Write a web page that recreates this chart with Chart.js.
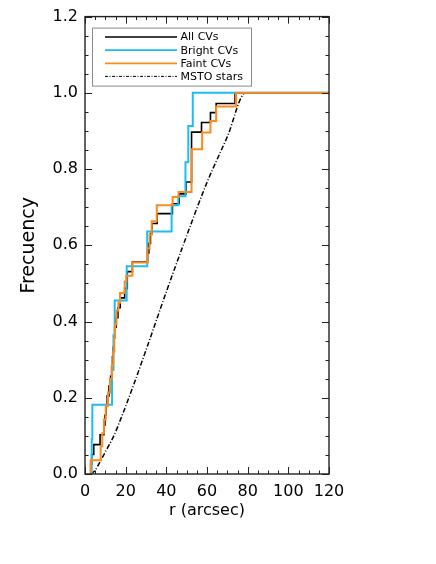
<!DOCTYPE html>
<html><head><meta charset="utf-8">
<script src="https://cdn.jsdelivr.net/npm/chart.js@4"></script>
<style>html,body{margin:0;padding:0;background:#fff;}canvas{display:block;}</style>
</head><body>
<canvas id="c" width="436" height="564"></canvas>
<script>
// ---- data ----
const xTickValues = [0, 20, 40, 60, 80, 100, 120];
const yTickValues = [0.0, 0.2, 0.4, 0.6, 0.8, 1.0, 1.2];
const seriesLabels = ['All CVs', 'Bright CVs', 'Faint CVs', 'MSTO stars'];

// All CVs (cumulative fraction, step)
const allR = [2.5, 2.8, 3.3, 4.3, 7.4, 9.3, 9.8, 10.3, 10.9, 11.8, 12.6, 13.1, 13.5, 13.9, 14.3, 14.6, 15.3, 16.2, 17.3, 19.5, 20.8, 23.3, 30.8, 31.4, 32.2, 32.9, 35.5, 43.0, 46.3, 49.7, 52.4, 57.3, 61.7, 64.5, 73.8, 120];
const allF = [0.0, 0.026, 0.051, 0.077, 0.103, 0.128, 0.154, 0.179, 0.205, 0.231, 0.256, 0.282, 0.308, 0.333, 0.359, 0.385, 0.410, 0.436, 0.462, 0.487, 0.531, 0.556, 0.580, 0.605, 0.631, 0.657, 0.683, 0.709, 0.735, 0.766, 0.897, 0.922, 0.948, 0.972, 1.0, 1.0];

// Bright CVs
const brightR = [2.5, 3.3, 3.6, 13.3, 14.0, 14.6, 20.5, 30.6, 42.6, 45.9, 49.4, 50.8, 53.0, 120];
const brightF = [0.0, 0.091, 0.182, 0.273, 0.364, 0.455, 0.545, 0.636, 0.705, 0.729, 0.818, 0.913, 1.0, 1.0];

// Faint CVs
const faintR = [2.5, 2.8, 7.7, 8.5, 9.3, 10.2, 11.3, 12.3, 13.3, 13.9, 14.4, 14.8, 15.5, 16.4, 17.2, 19.5, 20.3, 23.3, 30.7, 31.8, 32.8, 35.3, 43.1, 46.0, 52.4, 57.6, 61.7, 64.5, 74.3, 120];
const faintF = [0.0, 0.036, 0.073, 0.107, 0.143, 0.179, 0.214, 0.250, 0.286, 0.321, 0.357, 0.393, 0.429, 0.449, 0.475, 0.505, 0.520, 0.555, 0.592, 0.628, 0.663, 0.705, 0.727, 0.740, 0.852, 0.896, 0.926, 0.964, 1.0, 1.0];

// MSTO stars (smooth)
const mstoR = [3, 5, 7.5, 10, 14, 18, 24, 30, 40, 50, 60, 70, 79, 120];
const mstoF = [0.0, 0.010, 0.033, 0.058, 0.098, 0.150, 0.235, 0.325, 0.478, 0.625, 0.765, 0.885, 1.0, 1.0];

// ---- styling ----
const FONT = 'DejaVu Sans';
const AXIS_COLOR = '#222';
const colAll = '#000000', colBright = '#1BBEF0', colFaint = '#FF8A1C', colMsto = '#000000';
const mstoDash = [5, 2, 1, 2];

function pts(r, f) { return r.map((v, i) => ({ x: v, y: f[i] })); }

const framePlugin = {
  id: 'frame',
  afterDatasetsDraw(chart) {
    const { ctx, chartArea: a, scales: { x, y } } = chart;
    ctx.save();
    ctx.strokeStyle = AXIS_COLOR;
    ctx.lineWidth = 1;
    const line = (x1, y1, x2, y2) => { ctx.beginPath(); ctx.moveTo(x1, y1); ctx.lineTo(x2, y2); ctx.stroke(); };
    // x ticks (major 20, minor 5) on bottom and top, pointing inward
    for (let v = 0; v <= 120; v += 5) {
      const px = Math.round(x.getPixelForValue(v)) + 0.5;
      const L = (v % 20 === 0) ? 7 : 3.5;
      line(px, a.bottom, px, a.bottom - L);
      line(px, a.top, px, a.top + L);
    }
    // y ticks (major 0.2, minor 0.05) on left and right
    for (let k = 0; k <= 24; k++) {
      const v = k * 0.05;
      const py = Math.round(y.getPixelForValue(v)) + 0.5;
      const L = (k % 4 === 0) ? 7 : 3.5;
      line(a.left, py, a.left + L, py);
      line(a.right, py, a.right - L, py);
    }
    ctx.lineWidth = 1.4;
    ctx.strokeRect(a.left, a.top, a.right - a.left, a.bottom - a.top);

    // legend box
    const bx = a.left + 7.5, by = a.top + 11.5, bw = 159, bh = 58;
    ctx.lineWidth = 1;
    ctx.strokeStyle = '#8a8a8a';
    ctx.strokeRect(bx, by, bw, bh);
    const entries = [
      { label: seriesLabels[0], color: colAll, width: 1.5, dash: [] },
      { label: seriesLabels[1], color: colBright, width: 1.8, dash: [] },
      { label: seriesLabels[2], color: colFaint, width: 1.8, dash: [] },
      { label: seriesLabels[3], color: colMsto, width: 1, dash: [3, 1.5, 1, 1.5] },
    ];
    ctx.font = '11px "' + FONT + '"';
    ctx.textBaseline = 'middle';
    ctx.textAlign = 'left';
    entries.forEach((e, i) => {
      const ly = by + 9 + i * 13.1;
      ctx.strokeStyle = e.color;
      ctx.lineWidth = e.width;
      ctx.setLineDash(e.dash);
      line(bx + 12.5, ly, bx + 84.5, ly);
      ctx.setLineDash([]);
      ctx.fillStyle = '#000';
      ctx.fillText(e.label, bx + 88, ly + 0.5);
    });
    ctx.restore();
  }
};

new Chart(document.getElementById('c'), {
  type: 'line',
  data: {
    datasets: [
      { label: seriesLabels[2], data: pts(faintR, faintF), borderColor: colFaint, borderWidth: 2, stepped: true, pointRadius: 0, fill: false },
      { label: seriesLabels[1], data: pts(brightR, brightF), borderColor: colBright, borderWidth: 2, stepped: true, pointRadius: 0, fill: false },
      { label: seriesLabels[0], data: pts(allR, allF), borderColor: colAll, borderWidth: 1.6, stepped: true, pointRadius: 0, fill: false },
      { label: seriesLabels[3], data: pts(mstoR, mstoF), borderColor: colMsto, borderWidth: 1.5, borderDash: mstoDash, pointRadius: 0, cubicInterpolationMode: 'monotone', fill: false }
    ]
  },
  options: {
    responsive: false,
    animation: false,
    devicePixelRatio: 1,
    layout: { padding: { top: 14, right: 107, bottom: 0, left: 0 } },
    plugins: { legend: { display: false }, tooltip: { enabled: false } },
    scales: {
      x: {
        type: 'linear', min: 0, max: 120,
        afterFit: s => { s.height = 90; },
        afterBuildTicks: s => { s.ticks = xTickValues.map(v => ({ value: v })); },
        grid: { display: false, drawTicks: false },
        border: { display: false },
        ticks: { padding: 8, color: '#000', maxRotation: 0, autoSkip: false, font: { family: FONT, size: 16 }, callback: v => String(v) },
        title: { display: true, text: 'r (arcsec)', color: '#000', font: { family: FONT, size: 16 }, padding: { top: 0, bottom: 44 } }
      },
      y: {
        type: 'linear', min: 0, max: 1.2,
        afterFit: s => { s.width = 85; },
        afterBuildTicks: s => { s.ticks = yTickValues.map(v => ({ value: v })); },
        grid: { display: false, drawTicks: false },
        border: { display: false },
        ticks: { padding: 7, color: '#000', autoSkip: false, font: { family: FONT, size: 16 }, callback: v => Number(v).toFixed(1) },
        title: { display: true, text: 'Frecuency', color: '#000', font: { family: FONT, size: 19 }, padding: { top: 18, bottom: 0 } }
      }
    }
  },
  plugins: [framePlugin]
});
</script>
</body></html>
